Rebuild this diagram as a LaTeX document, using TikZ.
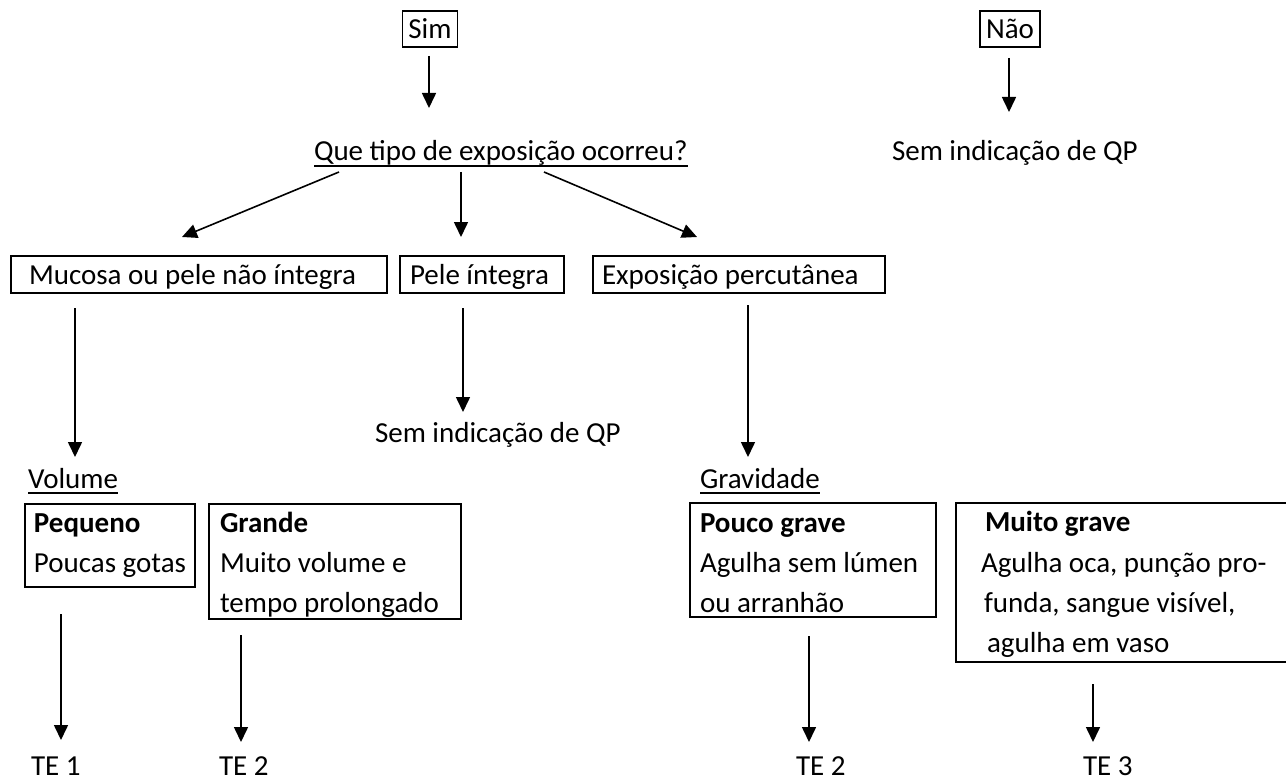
\documentclass[tikz,border=0pt]{standalone}
\usepackage{fontspec}
\setmainfont{Carlito}
\usetikzlibrary{arrows.meta}
\begin{document}
\begin{tikzpicture}[x=1pt,y=-1pt,
  every node/.style={inner sep=0pt, outer sep=0pt, font=\fontsize{29}{40}\selectfont},
  txt/.style={anchor=base west},
  bx/.style={draw, line width=1.6pt, anchor=north west},
  ansbox/.style={draw, line width=1.6pt, inner xsep=6pt, minimum height=36pt, text height=19pt, text depth=0pt},
  arr/.style={line width=1.6pt, -{Triangle[length=15pt,width=14pt]}},
  uline/.style={line width=1.5pt}]
\clip (0,0) rectangle (1286,781);
\fill[white] (0,0) rectangle (1286,781);

% top answers
\node[ansbox] (sim) at (430,29) {Sim};
\node[ansbox] (nao) at (1010,29) {Não};

% second row texts
\node[txt] (que) at (314,161) {Que tipo de exposição ocorreu?};
\draw[uline] ([yshift=-5pt]que.base west) -- ([yshift=-5pt]que.base east);
\node[txt] (semA) at (892,161) {Sem indicação de QP};

% third row boxes
\node[bx, minimum width=376pt, minimum height=37pt] (mucbox) at (11,256) {};
\node[txt] (muc) at (29,284) {Mucosa ou pele não íntegra};
\node[bx, minimum width=164pt, minimum height=37pt] (pelebox) at (400,256) {};
\node[txt] (pele) at (410,284) {Pele íntegra};
\node[bx, minimum width=292pt, minimum height=37pt] (expbox) at (593,256) {};
\node[txt] (exp) at (602,284) {Exposição percutânea};

\node[txt] (semB) at (375,442) {Sem indicação de QP};

% headings
\node[txt] (vol) at (28,488) {Volume};
\draw[uline] ([yshift=-5pt]vol.base west) -- ([yshift=-5pt]vol.base east);
\node[txt] (grav) at (700,488) {Gravidade};
\draw[uline] ([yshift=-5pt]grav.base west) -- ([yshift=-5pt]grav.base east);

% Pequeno
\node[bx, minimum width=170pt, minimum height=83pt] (pqbox) at (25,504) {};
\node[txt] (pq1) at (34,532) {\textbf{Pequeno}};
\node[txt] (pq2) at (34,572) {Poucas gotas};
% Grande
\node[bx, minimum width=252pt, minimum height=115pt] (grbox) at (209,504) {};
\node[txt] (gr1) at (220,532) {\textbf{Grande}};
\node[txt] (gr2) at (220,572) {Muito volume e};
\node[txt] (gr3) at (220,612) {tempo prolongado};
% Pouco grave
\node[bx, minimum width=246pt, minimum height=114pt] (pobox) at (690,503) {};
\node[txt] (po1) at (700,532) {\textbf{Pouco grave}};
\node[txt] (po2) at (700,572) {Agulha sem lúmen};
\node[txt] (po3) at (700,612) {ou arranhão};
% Muito grave
\node[bx, minimum width=345pt, minimum height=159pt] (mubox) at (956,503) {};
\node[txt] (mu1) at (985,531) {\textbf{Muito grave}};
\node[txt] (mu2) at (981,572) {Agulha oca, punção pro-};
\node[txt] (mu3) at (984,612) {funda, sangue visível,};
\node[txt] (mu4) at (987,652) {agulha em vaso};

% outcomes
\node[txt] (te1) at (31,775) {TE 1};
\node[txt] (te2a) at (219,775) {TE 2};
\node[txt] (te2b) at (796,775) {TE 2};
\node[txt] (te3) at (1083,775) {TE 3};

% arrow end points
\coordinate (s1) at (429,56);   \coordinate (e1) at (429,108);
\coordinate (s2) at (1009,58);  \coordinate (e2) at (1009,112);
\coordinate (s3) at (339,172);  \coordinate (e3) at (182,237);
\coordinate (s4) at (461,172);  \coordinate (e4) at (461,237);
\coordinate (s5) at (544,172);  \coordinate (e5) at (697,237);
\coordinate (s6) at (75,308);   \coordinate (e6) at (75,457);
\coordinate (s7) at (463,308);  \coordinate (e7) at (463,412);
\coordinate (s8) at (748,305);  \coordinate (e8) at (748,457);
\coordinate (s9) at (61,614);   \coordinate (e9) at (61,740);
\coordinate (s10) at (241,635); \coordinate (e10) at (241,742);
\coordinate (s11) at (809,636); \coordinate (e11) at (809,742);
\coordinate (s12) at (1093,684);\coordinate (e12) at (1093,742);

\foreach \i in {1,...,12} {\draw[arr] (s\i) -- (e\i);}
\end{tikzpicture}
\end{document}
